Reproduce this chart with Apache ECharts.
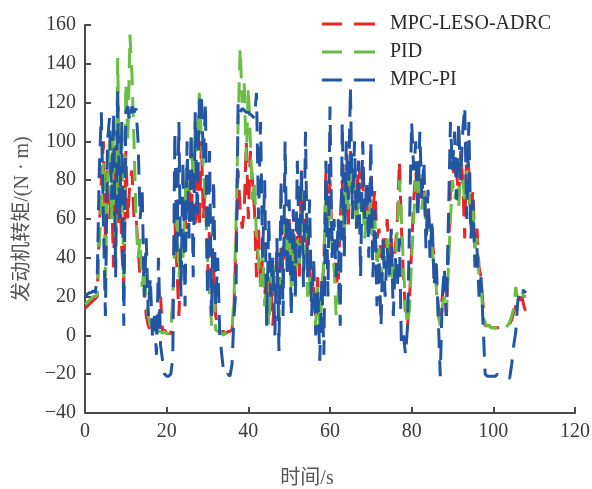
<!DOCTYPE html>
<html>
<head>
<meta charset="utf-8">
<script src="https://cdn.jsdelivr.net/npm/echarts@6/dist/echarts.min.js"></script>
<style>html,body{margin:0;padding:0;background:#fff}#c{width:592px;height:489px}</style>
</head>
<body>
<div id="c"></div>
<script>
// sampling of the time axis (s)
const tStart = 0, tStep = 0.5;
const xTicks = [0, 20, 40, 60, 80, 100, 120];
const yTicks = [-40, -20, 0, 20, 40, 60, 80, 100, 120, 140, 160];
const seriesNames = ['MPC-LESO-ADRC', 'PID', 'MPC-PI'];

const adrc = [
 14,15,16,17,18,19,20,55,80,100, 50,85,60,75,35,98,55,85,45,25,
 95,60,80,85,60,62,45,30,40,25, 10,5,3,5,2,5,8,20,2,3,
 1,1,1,15,60,35,10,40,50,60, 55,85,60,90,55,80,55,100,60,80,
 30,55,10,35,10,5,3,2,2,1, 2,2,3,15,50,85,65,55,65,100,
 60,95,80,65,30,55,25,40,20,35, 10,30,5,25,40,15,45,30,55,40,
 60,35,50,25,60,30,85,55,60,40, 35,20,25,10,30,5,25,35,85,60,
 80,50,45,30,25,60,80,55,90,55, 95,70,85,60,90,75,80,60,70,55,
 85,65,75,50,55,40,50,45,60,40, 50,30,45,60,90,55,30,10,5,20,
 45,70,85,65,80,70,75,60,65,55, 50,40,30,15,10,20,25,10,40,75,
 90,80,85,70,95,80,50,100,85,60, 75,45,55,35,30,15,5,5,5,4,
 4,4,4,4,4,4,5,5,6,8,12,15,20,18,20,15,12
];
const pid = [
 16,17,18,19,20,20,21,45,70,90, 30,80,100,60,110,40,143,75,110,20,
 130,100,155,135,100,60,40,50,25,35, 20,10,5,3,5,1,2,2,1,2,
 1,1,1,20,50,60,30,45,40,70, 90,60,100,80,110,95,125,100,85,70,
 40,20,5,25,3,2,2,1,0,2, 1,2,3,20,60,110,148,120,130,90,
 128,100,70,80,50,40,25,45,15,30, 5,25,40,20,35,10,30,45,60,40,
 55,25,45,20,50,35,75,40,55,20, 30,15,20,5,25,5,20,40,75,55,
 70,45,35,10,20,55,75,50,85,65, 90,75,80,55,75,65,70,50,65,55,
 70,50,60,35,45,30,40,35,50,30, 40,25,40,55,80,60,35,15,5,15,
 40,60,80,70,85,65,75,55,60,50, 45,35,25,10,5,15,20,10,35,60,
 80,70,75,65,90,80,70,85,75,55, 65,45,50,30,25,10,6,5,5,4,
 4,4,3,4,4,3,4,5,7,10,14,25,18,20,22,20,20
];
const mpcpi = [
 20,21,22,22,23,22,30,85,115,60, 10,100,112,70,115,30,127,60,110,5,
 115,118,110,118,115,117,100,60,75,20, 50,10,30,0,10,-10,40,-5,-13,-20,
 -21,-21,-20,-12,105,40,110,20,90,15, 100,50,105,30,115,60,120,125,90,120,
 20,95,10,80,15,40,0,-10,-20,-21, -20,-21,-15,10,25,120,115,117,116,115,
 115,114,113,112,125,60,110,40,80,5, 60,20,40,0,50,-8,80,10,100,30,
 70,10,65,20,90,40,85,25,105,30, 70,10,40,0,25,-13,30,-10,90,20,
 118,40,60,30,60,5,110,40,100,70, 128,60,100,55,90,30,100,60,80,40,
 100,30,65,15,40,5,50,20,45,30, 55,10,40,25,50,-5,0,-10,5,60,
 110,85,100,60,105,70,90,45,75,40, 60,25,40,10,-21,20,35,10,60,110,
 85,105,70,110,80,105,118,60,110,50, 70,35,45,20,30,5,-20,-21,-21,-21,
 -21,-21,-20,-21,-21,-21,-21,-22,-22,-15,-5,2,18,22,25,22,23
];

const colors = ['#E8262A', '#6BBE45', '#2255A4'];
function pairs(arr) { return arr.map((v, i) => [tStart + i * tStep, v]); }
const allData = [adrc, pid, mpcpi];

const serif = '"Liberation Serif", "Times New Roman", "Noto Sans CJK SC", serif';
const axisColor = '#4a4a4a';
const labelFmt = v => String(v).replace('-', '\u2212');
const dashIcon = 'path://M0,0h20v3h-20zM32,0h21v3h-21z';

const chart = echarts.init(document.getElementById('c'), null, {renderer: 'canvas'});
chart.setOption({
  animation: false,
  backgroundColor: '#fff',
  grid: {left: 85, right: 17, top: 25, bottom: 76, containLabel: false, outerBoundsMode: 'none'},
  legend: {
    orient: 'vertical', left: 317, top: 9, itemGap: 8,
    itemWidth: 53, itemHeight: 3, icon: dashIcon,
    textStyle: {fontFamily: serif, fontSize: 20, color: '#2a2a2a', padding: [0, 0, 0, 10]},
    data: seriesNames.map((n, k) => ({name: n, icon: dashIcon, itemStyle: {color: colors[k]}}))
  },
  xAxis: {
    type: 'value', min: xTicks[0], max: xTicks[xTicks.length - 1], interval: 20,
    name: '时间/s', nameLocation: 'middle', nameGap: 56,
    nameTextStyle: {fontFamily: serif, fontSize: 20, color: '#555', padding: [0, 46, 0, 0]},
    axisLine: {show: true, onZero: false, lineStyle: {color: axisColor, width: 2}},
    axisTick: {show: true, inside: true, length: 6, lineStyle: {color: axisColor, width: 2}},
    axisLabel: {fontFamily: serif, fontSize: 20, color: '#3a3a3a', margin: 9, formatter: labelFmt},
    splitLine: {show: false}
  },
  yAxis: {
    type: 'value', min: yTicks[0], max: yTicks[yTicks.length - 1], interval: 20,
    name: '发动机转矩/(N · m)', nameLocation: 'middle', nameGap: 52, nameRotate: 90,
    nameTextStyle: {fontFamily: serif, fontSize: 20, color: '#555'},
    axisLine: {show: true, onZero: false, lineStyle: {color: axisColor, width: 2}},
    axisTick: {show: true, inside: true, length: 6, lineStyle: {color: axisColor, width: 2}},
    axisLabel: {fontFamily: serif, fontSize: 20, color: '#3a3a3a', margin: 9, formatter: labelFmt},
    splitLine: {show: false}
  },
  series: seriesNames.map((n, k) => ({
    name: n, type: 'line', data: pairs(allData[k]),
    symbol: 'none', showSymbol: false, smooth: false,
    color: colors[k],
    itemStyle: {color: colors[k]},
    lineStyle: {color: colors[k], width: 3, type: [20, 12], cap: 'butt'},
    z: 2 + k
  }))
});
</script>
</body>
</html>
